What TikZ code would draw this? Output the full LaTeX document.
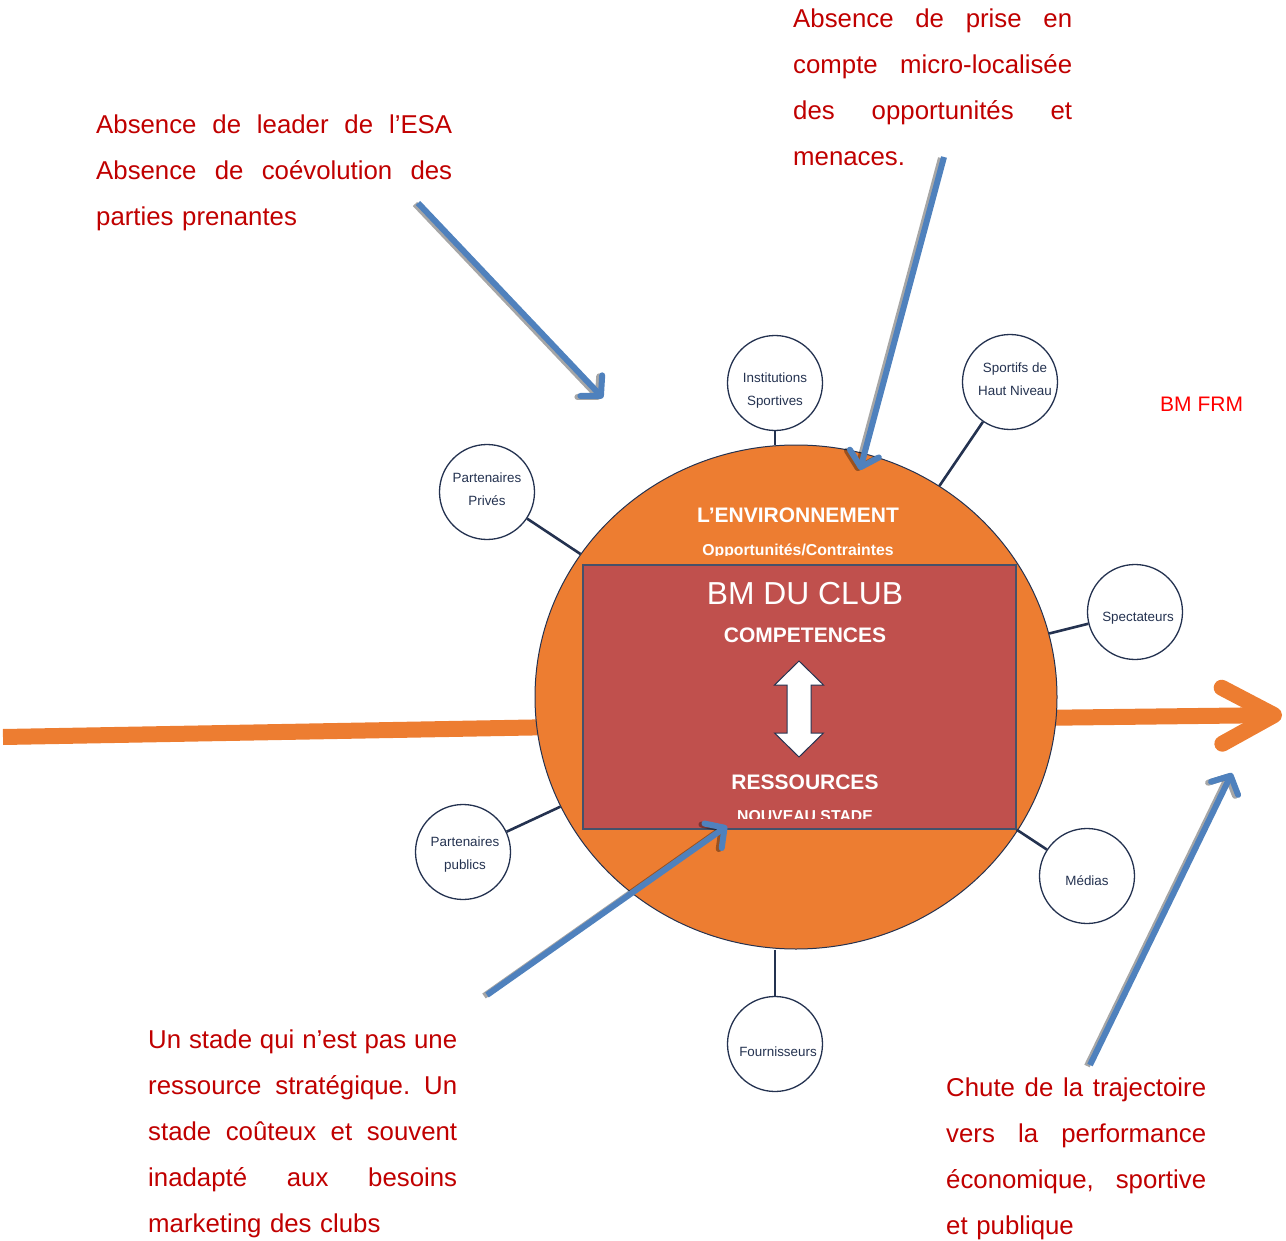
\documentclass[tikz,border=0pt]{standalone}
\usepackage{fontspec}
\setmainfont{Liberation Sans}
\usetikzlibrary{arrows.meta, shapes.geometric}
\definecolor{envorange}{RGB}{237,125,49}
\definecolor{clubred}{RGB}{192,80,77}
\definecolor{navy}{RGB}{36,50,80}
\definecolor{notered}{RGB}{192,0,0}
\definecolor{frmred}{RGB}{255,0,0}
\definecolor{arrowblue}{RGB}{79,129,189}
% one justified line of a note (word gaps given by \hfill)
\newcommand{\jline}[1]{\makebox[\notewd][s]{#1}}

\tikzset{
  hub/.style={circle, draw=navy, line width=1.3pt, fill=white, minimum size=95pt, inner sep=0pt},
  hubtext/.style={font=\fontsize{13.4}{23}\selectfont, text=navy, align=center, inner sep=0pt},
  link/.style={draw=navy, line width=2.6pt},
  note/.style={font=\fontsize{25.8}{46}\selectfont, text=notered, anchor=base west, inner sep=0pt, align=left,
    text width=#1, execute at begin node={\def\notewd{#1}}},
  inlabel/.style={font=\bfseries\fontsize{21}{25}\selectfont, text=white, anchor=base, inner sep=0pt},
  sublabel/.style={font=\bfseries\fontsize{15.8}{19}\selectfont, text=white, anchor=base, inner sep=0pt},
  flow/.style={envorange, line width=16pt},
  hint/.style={arrowblue, line width=6pt, -{Straight Barb[length=14pt,width=30pt,round]}},
  hintshadow/.style={black, opacity=.35, line width=6pt, -{Straight Barb[length=14pt,width=30pt,round]}},
}

\begin{document}
\begin{tikzpicture}[x=1pt, y=-1pt]
    \useasboundingbox (0,0) rectangle (1286,1241);

    % Flow through the club
    \coordinate (inflow) at (3,737);
    \coordinate (inend) at (560,727);
    \coordinate (outstart) at (1030,718);
    \coordinate (outflow) at (1282,715);
    \draw[flow, line cap=butt] (inflow) -- (inend);
    \draw[flow, -{Straight Barb[length=52pt,width=56pt,round]}] (outstart) -- (outflow);

    % Environment and club
    \node[ellipse, fill=envorange, draw=navy, line width=1pt, minimum width=522pt, minimum height=504pt, inner sep=0pt] (env) at (796,697) {};
    \node[inlabel] (envtitle) at (798,522) {L’ENVIRONNEMENT};
    \begin{scope}
        \clip (600,530) rectangle (1000,555.5);
        \node[sublabel] (envsub) at (798,555) {Opportunités/Contraintes};
    \end{scope}

    \node[rectangle, draw=navy!85, fill=clubred, line width=1.3pt, minimum width=433pt, minimum height=264pt, inner sep=0pt] (club) at (799.5,697) {};
    \node[font=\fontsize{31.8}{36}\selectfont, text=white, anchor=base, inner sep=0pt] (clubtitle) at (805,604) {BM DU CLUB};
    \node[inlabel] (skills) at (805,642) {COMPETENCES};
    \node[inlabel] (assets) at (805,789) {RESSOURCES};
    \begin{scope}
        \clip (700,800) rectangle (900,818.5);
        \node[sublabel] (stadium) at (805,821.5) {NOUVEAU STADE};
    \end{scope}

    % Two-way arrow
    \draw[navy, line width=1pt, fill=white] (799,661) -- (823.5,685) -- (811,685) -- (811,733) -- (823.5,733)
        -- (799,757) -- (774.5,733) -- (787,733) -- (787,685) -- (774.5,685) -- cycle;

    % Stakeholders
    \node[hub] (inst) at (775,383) {};
    \node[hub] (sport) at (1010,382) {};
    \node[hub] (privp) at (487,492) {};
    \node[hub] (spect) at (1135,612) {};
    \node[hub] (medias) at (1087,876) {};
    \node[hub] (fourn) at (775,1044) {};
    \node[hub] (pubp) at (463,852) {};

    \draw[link] (inst) -- (inst |- env.north);
    \draw[link] (sport) -- (env);
    \draw[link] (privp) -- (env);
    \draw[link] (spect) -- (env);
    \draw[link] (medias) -- (club.south east);
    \draw[link] (fourn) -- (fourn |- env.south);
    \draw[link] (pubp) -- (env);

    \node[hubtext] (instT) at (775,391) {Institutions\\Sportives};
    \node[hubtext] (sportT) at (1015,379) {Sportifs de\\Haut Niveau};
    \node[hubtext] (privpT) at (487,489) {Partenaires\\Privés};
    \node[hubtext] (spectT) at (1138,618) {Spectateurs};
    \node[hubtext] (mediasT) at (1087,881) {Médias};
    \node[hubtext] (fournT) at (778,1052) {Fournisseurs};
    \node[hubtext] (pubpT) at (465,855) {Partenaires\\publics};

    % Critiques pointing at the model
    \coordinate (leaderS) at (418,203);
    \coordinate (leaderE) at (603,398);
    \coordinate (localS) at (944,157);
    \coordinate (localE) at (860,470);
    \coordinate (stadeS) at (487,995);
    \coordinate (stadeE) at (727,826);
    \coordinate (chuteS) at (1090,1065);
    \coordinate (chuteE) at (1232,773);
    \foreach \s/\e in {leaderS/leaderE, localS/localE, stadeS/stadeE, chuteS/chuteE} {
        \draw[hintshadow] ([xshift=-3pt,yshift=-1pt]\s) -- ([xshift=-3pt,yshift=-1pt]\e);
        \draw[hint] (\s) -- (\e);
    }

    \node[note=356pt] (leaderN) at (96,134)
        {\jline{Absence\hfill de\hfill leader\hfill de\hfill l’ESA}\\
         \jline{Absence\hfill de\hfill coévolution\hfill des}\\
         parties prenantes};
    \node[note=279pt] (localN) at (793,28)
        {\jline{Absence\hfill de\hfill prise\hfill en}\\
         \jline{compte\hfill micro-localisée}\\
         \jline{des\hfill opportunités\hfill et}\\
         menaces.};
    \node[note=309pt] (stadeN) at (148,1048)
        {\jline{Un\hfill stade\hfill qui\hfill n’est\hfill pas\hfill une}\\
         \jline{ressource\hfill stratégique.\hfill Un}\\
         \jline{stade\hfill coûteux\hfill et\hfill souvent}\\
         \jline{inadapté\hfill aux\hfill besoins}\\
         marketing des clubs};
    \node[note=260pt] (chuteN) at (946,1096)
        {\jline{Chute\hfill de\hfill la\hfill trajectoire}\\
         \jline{vers\hfill la\hfill performance}\\
         \jline{économique,\hfill sportive}\\
         et publique};

    \node[font=\fontsize{21}{25}\selectfont, text=frmred, anchor=base west, inner sep=0pt] (frm) at (1160,411.5) {BM FRM};
\end{tikzpicture}
\end{document}
